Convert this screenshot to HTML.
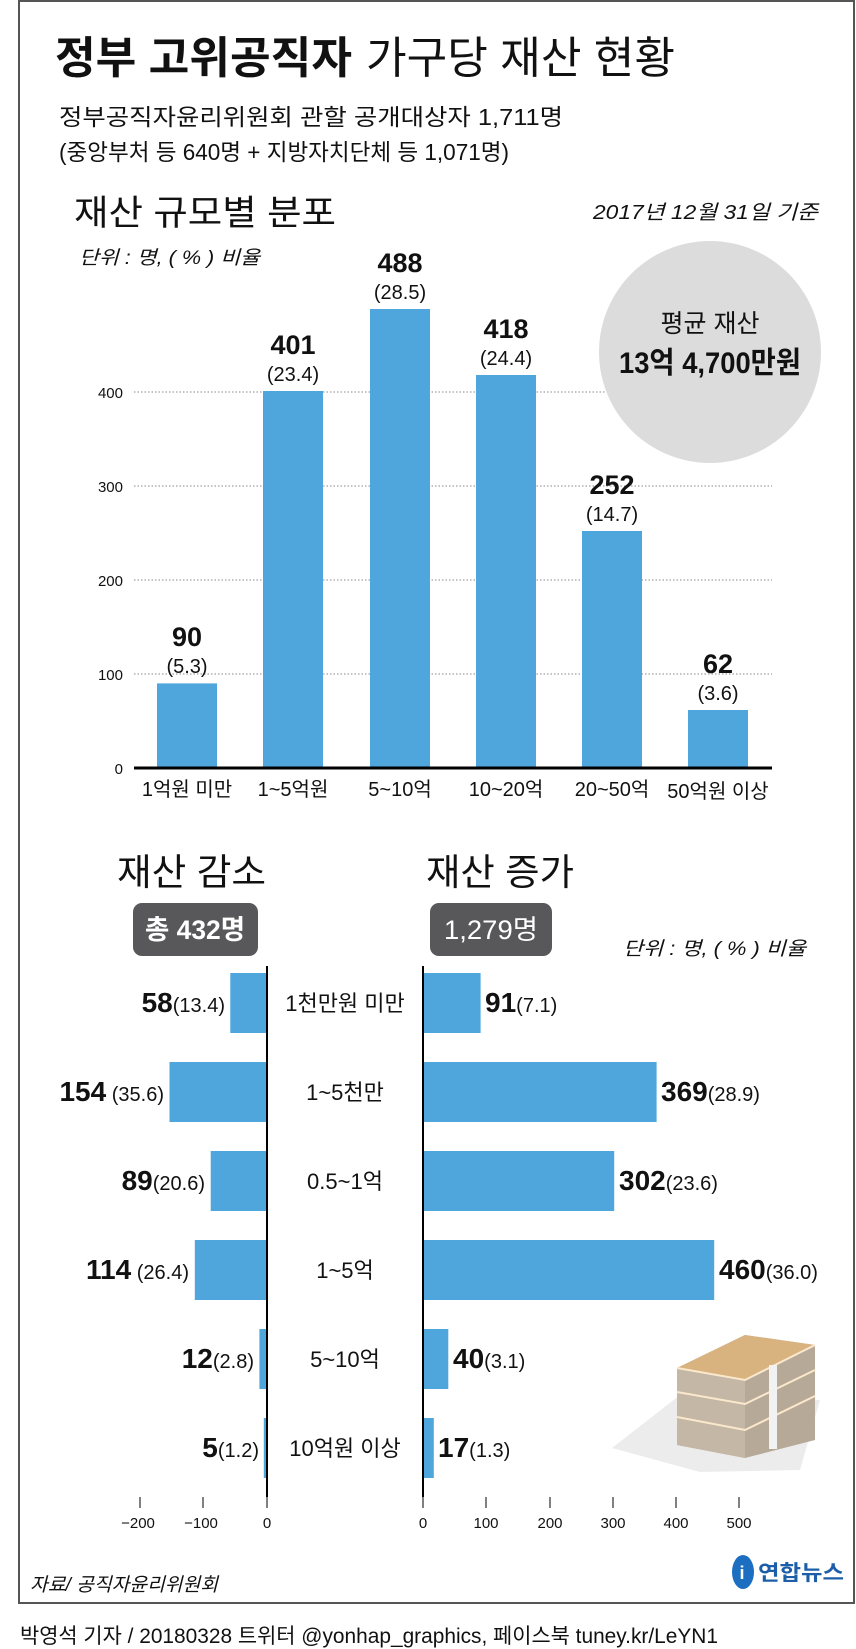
<!DOCTYPE html>
<html><head><meta charset="utf-8"><style>
html,body{margin:0;padding:0;background:#fff;}
svg{display:block;}
text{font-family:"Liberation Sans","Noto Sans CJK KR",sans-serif;fill:#111;}
.b{font-weight:bold;}
</style></head><body>
<svg width="856" height="1649" viewBox="0 0 856 1649" xmlns="http://www.w3.org/2000/svg">
<rect x="19" y="1" width="835" height="1602" fill="#fff" stroke="#555" stroke-width="2"/>
<!-- Title -->
<text x="55" y="73" font-size="44" class="b" textLength="297" lengthAdjust="spacingAndGlyphs">정부 고위공직자</text>
<text x="366" y="73" font-size="44" textLength="309" lengthAdjust="spacingAndGlyphs">가구당 재산 현황</text>
<text x="59" y="125" font-size="23" textLength="504" lengthAdjust="spacingAndGlyphs">정부공직자윤리위원회 관할 공개대상자 1,711명</text>
<text x="59" y="160" font-size="23" textLength="450" lengthAdjust="spacingAndGlyphs">(중앙부처 등 640명 + 지방자치단체 등 1,071명)</text>
<text x="74" y="225" font-size="35" textLength="262" lengthAdjust="spacingAndGlyphs">재산 규모별 분포</text>
<text x="818" y="219" font-size="20" font-style="italic" text-anchor="end" textLength="225" lengthAdjust="spacingAndGlyphs">2017년 12월 31일 기준</text>
<text x="79" y="264" font-size="19" font-style="italic" textLength="181" lengthAdjust="spacingAndGlyphs">단위 : 명, ( % ) 비율</text>
<!-- grid -->
<g stroke="#888" stroke-width="1" stroke-dasharray="1.5,2">
<line x1="134" y1="674" x2="772" y2="674"/>
<line x1="134" y1="580" x2="772" y2="580"/>
<line x1="134" y1="486" x2="772" y2="486"/>
<line x1="134" y1="392" x2="772" y2="392"/>
</g>
<!-- circle -->
<circle cx="710" cy="352" r="111" fill="#dcdcdd"/>
<text x="710" y="332" font-size="25" text-anchor="middle">평균 재산</text>
<text x="710" y="373" font-size="30" class="b" text-anchor="middle" textLength="182" lengthAdjust="spacingAndGlyphs">13억 4,700만원</text>
<g font-size="15" text-anchor="end">
<text x="123" y="774">0</text><text x="123" y="680">100</text><text x="123" y="586">200</text><text x="123" y="492">300</text><text x="123" y="398">400</text>
</g>
<g fill="#4ea6dd">
<rect x="157" y="683.4" width="60" height="84.6"/>
<rect x="263" y="391" width="60" height="377"/>
<rect x="370" y="309" width="60" height="459"/>
<rect x="476" y="375" width="60" height="393"/>
<rect x="582" y="531" width="60" height="237"/>
<rect x="688" y="710" width="60" height="58"/>
</g>
<line x1="134" y1="768" x2="772" y2="768" stroke="#000" stroke-width="3"/>
<g text-anchor="middle">
<g font-size="27" class="b">
<text x="187" y="646">90</text><text x="293" y="354">401</text><text x="400" y="272">488</text><text x="506" y="338">418</text><text x="612" y="494">252</text><text x="718" y="673">62</text>
</g>
<g font-size="20">
<text x="187" y="673">(5.3)</text><text x="293" y="381">(23.4)</text><text x="400" y="299">(28.5)</text><text x="506" y="365">(24.4)</text><text x="612" y="521">(14.7)</text><text x="718" y="700">(3.6)</text>
</g>
<g font-size="20">
<text x="187" y="796">1억원 미만</text><text x="293" y="796">1~5억원</text><text x="400" y="796">5~10억</text><text x="506" y="796">10~20억</text><text x="612" y="796">20~50억</text><text x="718" y="798">50억원 이상</text>
</g>
</g>
<!-- bottom section -->
<text x="117" y="885" font-size="37" textLength="149" lengthAdjust="spacingAndGlyphs">재산 감소</text>
<text x="426" y="885" font-size="37" textLength="148" lengthAdjust="spacingAndGlyphs">재산 증가</text>
<rect x="133" y="903" width="125" height="53" rx="9" fill="#58585a"/>
<rect x="430" y="903" width="122" height="53" rx="9" fill="#58585a"/>
<text x="195" y="939" font-size="27" text-anchor="middle" style="fill:#fff" class="b" textLength="100" lengthAdjust="spacingAndGlyphs">총 432명</text>
<text x="491" y="939" font-size="27" text-anchor="middle" style="fill:#fff" textLength="94" lengthAdjust="spacingAndGlyphs">1,279명</text>
<text x="806" y="955" font-size="19" font-style="italic" text-anchor="end" textLength="183" lengthAdjust="spacingAndGlyphs">단위 : 명, ( % ) 비율</text>
<g fill="#4ea6dd">
<rect x="230.3" y="973" width="36.7" height="60"/>
<rect x="169.5" y="1062" width="97.5" height="60"/>
<rect x="210.7" y="1151" width="56.3" height="60"/>
<rect x="194.8" y="1240" width="72.2" height="60"/>
<rect x="259.4" y="1329" width="7.6" height="60"/>
<rect x="263.8" y="1418" width="3.2" height="60"/>
<rect x="423" y="973" width="57.6" height="60"/>
<rect x="423" y="1062" width="233.6" height="60"/>
<rect x="423" y="1151" width="191.2" height="60"/>
<rect x="423" y="1240" width="291.2" height="60"/>
<rect x="423" y="1329" width="25.3" height="60"/>
<rect x="423" y="1418" width="10.8" height="60"/>
</g>
<line x1="267" y1="966" x2="267" y2="1497" stroke="#000" stroke-width="2"/>
<line x1="423" y1="966" x2="423" y2="1497" stroke="#000" stroke-width="2"/>
<g text-anchor="end">
<text x="225" y="1012"><tspan font-size="28" class="b">58</tspan><tspan font-size="20">(13.4)</tspan></text>
<text x="164" y="1101"><tspan font-size="28" class="b">154</tspan><tspan font-size="20"> (35.6)</tspan></text>
<text x="205" y="1190"><tspan font-size="28" class="b">89</tspan><tspan font-size="20">(20.6)</tspan></text>
<text x="189" y="1279"><tspan font-size="28" class="b">114</tspan><tspan font-size="20"> (26.4)</tspan></text>
<text x="254" y="1368"><tspan font-size="28" class="b">12</tspan><tspan font-size="20">(2.8)</tspan></text>
<text x="259" y="1457"><tspan font-size="28" class="b">5</tspan><tspan font-size="20">(1.2)</tspan></text>
</g>
<g>
<text x="485" y="1012"><tspan font-size="28" class="b">91</tspan><tspan font-size="20">(7.1)</tspan></text>
<text x="661" y="1101"><tspan font-size="28" class="b">369</tspan><tspan font-size="20">(28.9)</tspan></text>
<text x="619" y="1190"><tspan font-size="28" class="b">302</tspan><tspan font-size="20">(23.6)</tspan></text>
<text x="719" y="1279"><tspan font-size="28" class="b">460</tspan><tspan font-size="20">(36.0)</tspan></text>
<text x="453" y="1368"><tspan font-size="28" class="b">40</tspan><tspan font-size="20">(3.1)</tspan></text>
<text x="438" y="1457"><tspan font-size="28" class="b">17</tspan><tspan font-size="20">(1.3)</tspan></text>
</g>
<g font-size="22" text-anchor="middle">
<text x="345" y="1011">1천만원 미만</text><text x="345" y="1100">1~5천만</text><text x="345" y="1189">0.5~1억</text><text x="345" y="1278">1~5억</text><text x="345" y="1367">5~10억</text><text x="345" y="1456">10억원 이상</text>
</g>
<!-- ticks -->
<g stroke="#000" stroke-width="1">
<line x1="140" y1="1497" x2="140" y2="1508"/><line x1="203" y1="1497" x2="203" y2="1508"/><line x1="267" y1="1497" x2="267" y2="1508"/>
<line x1="423" y1="1497" x2="423" y2="1508"/><line x1="486" y1="1497" x2="486" y2="1508"/><line x1="550" y1="1497" x2="550" y2="1508"/><line x1="613" y1="1497" x2="613" y2="1508"/><line x1="676" y1="1497" x2="676" y2="1508"/><line x1="739" y1="1497" x2="739" y2="1508"/>
</g>
<g font-size="15" text-anchor="middle">
<text x="138" y="1528">−200</text><text x="201" y="1528">−100</text><text x="267" y="1528">0</text>
<text x="423" y="1528">0</text><text x="486" y="1528">100</text><text x="550" y="1528">200</text><text x="613" y="1528">300</text><text x="676" y="1528">400</text><text x="739" y="1528">500</text>
</g>
<!-- money stack -->
<polygon points="612,1448 680,1395 820,1400 800,1470 700,1472" fill="#ececec"/>
<polygon points="677,1368 745,1335 815,1345 815,1440 745,1458 677,1445" fill="#b7a998"/>
<polygon points="677,1368 745,1380 745,1458 677,1445" fill="#c4b7a6"/>
<polygon points="677,1368 745,1335 815,1345 745,1380" fill="#d9b37f"/>
<g stroke="#fbe8cc" stroke-width="2" fill="none">
<polyline points="677,1392 745,1404 815,1370"/><polyline points="677,1417 745,1430 815,1396"/><polyline points="677,1368 745,1380 815,1345"/>
</g>
<rect x="769" y="1365" width="8" height="84" fill="#f2f2f2"/>
<!-- source -->
<text x="30" y="1591" font-size="19" font-style="italic" textLength="188" lengthAdjust="spacingAndGlyphs">자료/ 공직자윤리위원회</text>
<ellipse cx="743" cy="1572" rx="11" ry="17" fill="#1c6fc0"/>
<text x="742" y="1579" font-size="18" style="fill:#fff" class="b" text-anchor="middle">i</text>
<text x="758" y="1580" font-size="21" class="b" style="fill:#1c5fa8" textLength="86" lengthAdjust="spacingAndGlyphs">연합뉴스</text>
<text x="20" y="1643" font-size="21" textLength="698" lengthAdjust="spacingAndGlyphs">박영석 기자 / 20180328 트위터 @yonhap_graphics, 페이스북 tuney.kr/LeYN1</text>
</svg>
</body></html>
